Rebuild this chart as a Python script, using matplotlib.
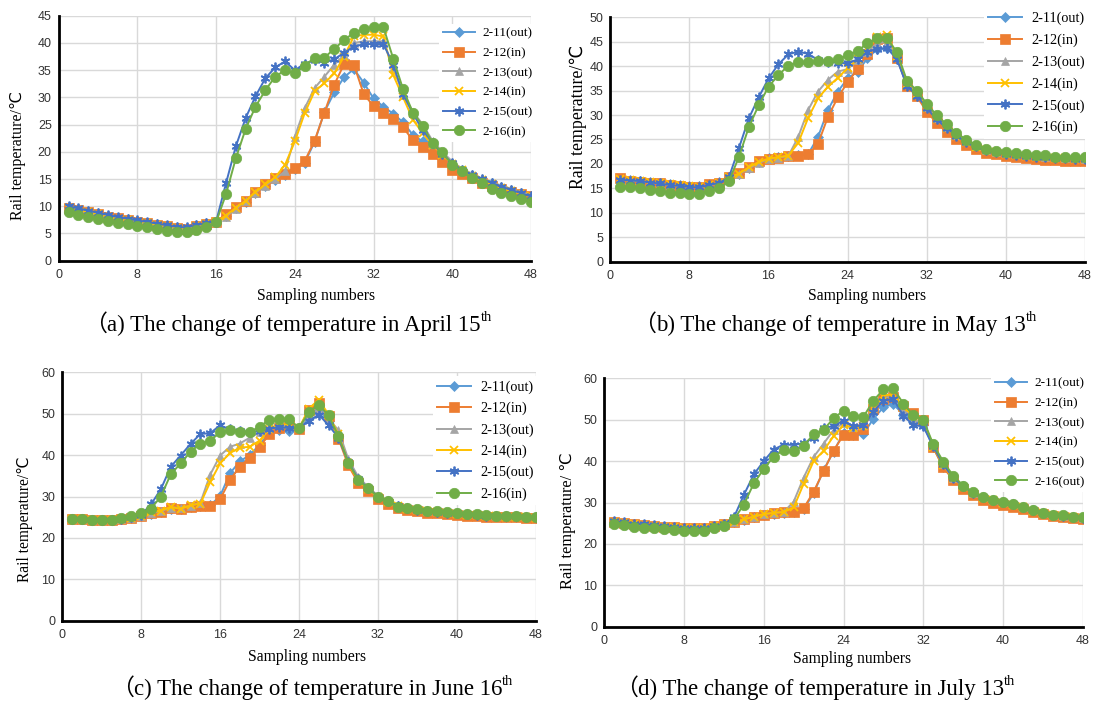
import matplotlib
matplotlib.use("Agg")
import matplotlib.pyplot as plt

W, H = 1094, 705

samples = list(range(1, 49))

names = ['2-11(out)', '2-12(in)', '2-13(out)', '2-14(in)', '2-15(out)', '2-16(in)']
names_d = ['2-11(out)', '2-12(in)', '2-13(out)', '2-14(in)', '2-15(out)', '2-16(out)']
colors = ['#5B9BD5', '#ED7D31', '#A5A5A5', '#FFC000', '#4472C4', '#70AD47']
markers = ['D', 's', '^', 'x', (6, 2, 0), 'o']
msizes = [5, 6.5, 6, 6, 7, 7.5]

# (a) April 15
a_211 = [9.9, 9.5, 9.1, 8.7, 8.3, 7.9, 7.6, 7.3, 7.0, 6.7, 6.4, 6.1, 6.0, 6.5, 6.9, 7.2,
         8.2, 9.6, 10.8, 12.4, 13.8, 14.9, 15.8, 16.8, 18.0, 21.8, 27.3, 30.9, 33.7, 35.2, 32.7, 29.8,
         28.3, 27.0, 25.4, 23.1, 21.9, 20.2, 18.8, 17.4, 16.5, 15.7, 14.9, 14.2, 13.6, 13.0, 12.5, 11.9]
a_212 = [9.7, 9.3, 8.9, 8.5, 8.1, 7.8, 7.5, 7.2, 6.9, 6.6, 6.3, 6.0, 5.9, 6.4, 6.8, 7.2,
         8.5, 9.9, 11.0, 12.7, 14.1, 15.2, 16.0, 17.0, 18.3, 22.0, 27.2, 32.3, 36.1, 36.0, 30.6, 28.4,
         27.2, 26.0, 24.5, 22.1, 20.8, 19.6, 18.2, 16.7, 15.9, 15.1, 14.3, 13.7, 13.1, 12.7, 12.3, 11.9]
a_213 = [9.6, 9.2, 8.8, 8.4, 8.0, 7.7, 7.4, 7.1, 6.8, 6.5, 6.2, 5.9, 5.8, 6.3, 6.7, 7.1,
         8.1, 9.5, 10.9, 12.5, 13.8, 15.0, 16.4, 22.8, 28.0, 31.7, 33.8, 36.0, 37.8, 40.0, 40.3, 40.3,
         40.3, 35.4, 30.5, 27.4, 25.0, 22.0, 20.0, 18.2, 16.9, 16.0, 15.1, 14.4, 13.8, 13.2, 12.6, 12.1]
a_214 = [9.7, 9.3, 8.9, 8.5, 8.1, 7.7, 7.4, 7.2, 6.9, 6.6, 6.3, 6.0, 5.9, 6.4, 6.8, 7.2,
         8.3, 9.7, 11.0, 12.6, 14.0, 15.3, 17.6, 21.9, 27.1, 31.1, 32.6, 34.4, 37.5, 41.2, 41.5, 41.5,
         41.2, 34.1, 30.0, 25.9, 23.4, 21.2, 19.5, 17.8, 16.6, 15.6, 14.8, 14.0, 13.3, 12.8, 12.3, 11.8]
a_215 = [10.0, 9.6, 9.2, 8.8, 8.4, 8.0, 7.7, 7.4, 7.1, 6.8, 6.5, 6.2, 6.1, 6.5, 6.9, 7.2,
         14.2, 21.0, 26.2, 30.2, 33.5, 35.5, 36.6, 35.0, 36.2, 36.8, 36.4, 37.0, 38.2, 39.3, 39.8, 39.8,
         39.8, 36.0, 30.6, 27.0, 24.0, 21.6, 19.6, 17.9, 16.7, 15.8, 15.0, 14.3, 13.6, 13.0, 12.4, 11.8]
a_216 = [8.9, 8.4, 8.0, 7.6, 7.3, 7.0, 6.7, 6.4, 6.1, 5.8, 5.5, 5.2, 5.2, 5.6, 6.1, 7.1,
         12.2, 18.8, 24.2, 28.3, 31.3, 33.8, 35.0, 34.4, 35.8, 37.3, 37.3, 38.9, 40.5, 41.9, 42.6, 42.9,
         42.9, 37.1, 31.5, 27.2, 24.8, 21.6, 19.9, 17.6, 16.4, 15.1, 14.2, 13.2, 12.5, 11.9, 11.3, 10.8]

# (b) May 13
b_211 = [17.0, 16.8, 16.6, 16.4, 16.2, 15.9, 15.7, 15.5, 15.4, 15.8, 16.3, 17.4,
         18.0, 19.2, 20.3, 21.2, 21.4, 21.6, 21.8, 22.0, 25.5, 31.0, 34.8, 37.5, 38.9, 41.6, 43.5, 43.7,
         41.5, 36.0, 34.0, 31.2, 28.9, 27.1, 25.6, 24.3, 23.4, 22.7, 22.3, 22.0, 21.8, 21.6, 21.5, 21.4,
         21.3, 21.2, 21.1, 21.0]
b_212 = [17.1, 16.5, 16.4, 16.2, 16.0, 15.7, 15.5, 15.3, 15.3, 15.8, 16.2, 17.4,
         18.1, 19.4, 20.5, 21.0, 21.3, 21.6, 21.7, 22.0, 24.1, 29.6, 33.6, 36.7, 39.4, 42.5, 45.5, 45.8,
         41.6, 36.0, 33.8, 30.7, 28.4, 26.6, 25.0, 23.9, 23.0, 22.3, 22.0, 21.6, 21.4, 21.2, 21.1, 20.9,
         20.8, 20.7, 20.7, 20.6]
b_213 = [16.8, 16.6, 16.4, 16.2, 16.0, 15.7, 15.5, 15.3, 15.2, 15.6, 16.1, 17.2,
         17.9, 19.1, 20.2, 21.0, 21.3, 21.6, 25.5, 31.0, 34.8, 37.2, 38.9, 39.4, 41.3, 43.0, 44.7, 45.0,
         42.0, 36.5, 34.5, 31.7, 29.3, 27.5, 26.0, 24.7, 23.7, 22.9, 22.5, 22.2, 22.0, 21.8, 21.6, 21.5,
         21.4, 21.3, 21.2, 21.1]
b_214 = [16.9, 16.7, 16.5, 16.3, 16.1, 15.8, 15.6, 15.4, 15.3, 15.7, 16.2, 17.3,
         18.0, 19.3, 20.4, 21.1, 21.4, 21.7, 24.3, 29.4, 33.4, 35.8, 37.6, 39.6, 41.4, 43.5, 46.0, 46.4,
         42.0, 36.3, 34.3, 31.5, 29.1, 27.3, 25.8, 24.5, 23.5, 22.8, 22.4, 22.1, 21.9, 21.7, 21.5, 21.4,
         21.3, 21.2, 21.1, 21.0]
b_215 = [16.8, 16.6, 16.5, 16.2, 16.0, 15.7, 15.5, 15.3, 15.2, 15.7, 16.1, 17.3,
         23.2, 29.3, 33.6, 37.5, 40.4, 42.4, 43.0, 42.5, 41.3, 40.9, 40.7, 40.6, 41.4, 43.0, 43.5, 43.7,
         41.4, 35.9, 34.0, 31.4, 29.1, 27.3, 25.8, 24.5, 23.6, 22.8, 22.4, 22.1, 21.9, 21.7, 21.5, 21.4,
         21.3, 21.2, 21.1, 21.0]
b_216 = [15.2, 15.2, 15.1, 14.7, 14.5, 14.1, 14.0, 13.9, 13.9, 14.5, 15.0, 16.5,
         21.4, 27.5, 32.0, 35.8, 38.2, 40.1, 40.9, 40.8, 41.1, 41.1, 41.4, 42.3, 43.1, 44.7, 45.7, 45.7,
         42.8, 37.0, 35.0, 32.3, 30.0, 28.1, 26.4, 24.9, 23.9, 23.0, 22.7, 22.4, 22.2, 22.0, 21.8, 21.8,
         21.5, 21.5, 21.4, 21.4]

# (c) June 16
c_211 = [24.5, 24.5, 24.3, 24.3, 24.3, 24.5, 24.8, 25.2, 25.7, 26.2, 27.0, 27.1, 27.5, 27.6, 27.9, 30.1,
         35.6, 38.5, 40.0, 42.5, 45.5, 46.0, 45.8, 46.2, 49.0, 50.8, 48.3, 44.5, 38.0, 33.8, 31.8, 29.8,
         28.6, 27.6, 27.1, 26.7, 26.4, 26.2, 26.0, 25.8, 25.6, 25.5, 25.3, 25.2, 25.1, 25.1, 25.0, 24.9]
c_212 = [24.5, 24.5, 24.3, 24.3, 24.3, 24.5, 24.8, 25.2, 26.0, 26.3, 27.3, 27.0, 27.5, 27.6, 27.8, 29.3,
         34.0, 37.2, 39.4, 42.0, 45.0, 46.5, 47.3, 46.3, 51.0, 52.5, 49.4, 44.0, 37.5, 33.3, 31.3, 29.3,
         28.2, 27.2, 26.8, 26.4, 26.1, 25.9, 25.7, 25.5, 25.4, 25.3, 25.1, 25.0, 25.0, 25.0, 24.9, 24.8]
c_213 = [24.6, 24.6, 24.4, 24.4, 24.4, 24.6, 24.9, 25.4, 26.0, 26.5, 27.3, 27.3, 27.8, 28.5, 35.3, 39.9,
         42.0, 42.8, 44.2, 45.5, 46.6, 47.2, 47.0, 46.8, 49.5, 51.0, 48.8, 46.0, 39.0, 34.8, 32.3, 30.2,
         29.0, 28.0, 27.4, 27.0, 26.6, 26.4, 26.2, 26.0, 25.8, 25.7, 25.5, 25.4, 25.3, 25.3, 25.2, 25.1]
c_214 = [24.5, 24.5, 24.3, 24.3, 24.3, 24.5, 24.8, 25.2, 26.2, 26.6, 27.5, 27.0, 27.9, 28.3, 33.5, 38.0,
         40.5, 41.8, 42.0, 43.5, 46.3, 47.5, 47.3, 46.5, 51.2, 53.4, 49.8, 45.0, 38.0, 33.8, 31.8, 29.8,
         28.6, 27.6, 27.1, 26.7, 26.4, 26.2, 26.0, 25.8, 25.6, 25.5, 25.3, 25.2, 25.1, 25.1, 25.0, 24.9]
c_215 = [24.6, 24.6, 24.4, 24.4, 24.4, 24.6, 25.0, 25.6, 28.1, 31.8, 37.2, 39.9, 42.7, 45.1, 45.3, 47.2,
         46.2, 45.8, 45.6, 45.8, 46.3, 46.8, 46.5, 46.6, 48.2, 49.8, 47.2, 44.2, 38.3, 34.2, 32.0, 30.0,
         28.8, 27.7, 27.2, 26.8, 26.5, 26.3, 26.1, 25.9, 25.7, 25.6, 25.4, 25.3, 25.2, 25.2, 25.1, 25.0]
c_216 = [24.6, 24.6, 24.4, 24.4, 24.4, 24.7, 25.3, 26.0, 27.1, 30.0, 35.4, 38.0, 40.8, 42.8, 43.5, 45.5,
         46.0, 45.7, 45.5, 46.9, 48.5, 48.7, 48.6, 46.6, 50.4, 52.2, 49.6, 44.6, 38.2, 34.0, 32.0, 30.0,
         28.8, 27.5, 27.2, 26.9, 26.6, 26.4, 26.2, 26.0, 25.8, 25.7, 25.5, 25.3, 25.3, 25.3, 25.1, 25.1]

# (d) July 13
d_211 = [25.4, 25.1, 24.8, 24.6, 24.4, 24.2, 24.0, 23.8, 23.7, 23.8, 24.2, 24.6,
         25.2, 25.8, 26.4, 27.0, 27.3, 27.5, 27.6, 28.4, 32.2, 37.8, 42.3, 46.8, 46.4, 46.6, 50.2, 53.0,
         53.8, 51.2, 49.5, 48.8, 43.3, 38.6, 35.6, 33.5, 32.0, 31.0, 30.3, 29.8, 29.3, 28.6, 27.9, 27.4,
         27.0, 26.7, 26.4, 26.2]
d_212 = [25.3, 25.0, 24.8, 24.6, 24.4, 24.2, 24.0, 23.9, 23.8, 23.9, 24.3, 24.7,
         25.3, 25.9, 26.5, 27.1, 27.4, 27.6, 27.7, 28.6, 32.6, 37.6, 42.5, 46.3, 46.3, 47.8, 52.5, 55.1,
         55.4, 53.2, 51.6, 50.0, 43.3, 38.5, 35.5, 33.3, 31.7, 30.7, 30.0, 29.5, 29.0, 28.4, 27.7, 27.2,
         26.8, 26.5, 26.2, 26.1]
d_213 = [25.4, 25.1, 24.8, 24.6, 24.4, 24.2, 24.0, 23.8, 23.7, 23.8, 24.2, 24.6,
         25.3, 25.9, 26.6, 27.2, 27.5, 27.7, 30.2, 36.0, 41.0, 44.2, 47.5, 49.3, 48.3, 48.8, 52.8, 55.3,
         55.6, 52.6, 50.0, 49.2, 43.8, 39.2, 36.0, 33.9, 32.3, 31.3, 30.6, 30.1, 29.6, 28.9, 28.1, 27.5,
         27.1, 26.8, 26.5, 26.3]
d_214 = [25.3, 25.0, 24.8, 24.6, 24.4, 24.2, 24.0, 23.9, 23.8, 23.9, 24.3, 24.7,
         25.3, 25.9, 26.6, 27.2, 27.5, 27.7, 28.8, 34.5, 40.0, 42.5, 46.0, 48.8, 48.0, 48.5, 52.8, 55.8,
         56.2, 53.0, 51.0, 49.8, 43.5, 39.0, 35.9, 33.8, 32.2, 31.2, 30.5, 30.0, 29.5, 28.8, 28.0, 27.4,
         27.0, 26.7, 26.4, 26.2]
d_215 = [25.5, 25.2, 24.9, 24.7, 24.5, 24.3, 24.1, 23.9, 23.8, 23.9, 24.3, 24.8,
         26.4, 31.8, 36.8, 40.0, 42.8, 44.0, 43.9, 44.3, 45.7, 47.9, 48.5, 49.8, 48.4, 48.6, 51.9, 54.6,
         55.0, 51.0, 48.7, 48.4, 43.6, 39.2, 36.0, 33.9, 32.3, 31.3, 30.6, 30.1, 29.6, 28.9, 28.1, 27.5,
         27.1, 26.8, 26.5, 26.3]
d_216 = [24.9, 24.6, 24.2, 23.9, 23.8, 23.6, 23.3, 23.2, 23.1, 23.2, 23.8, 24.4,
         25.9, 29.5, 34.6, 38.1, 41.1, 42.7, 42.4, 43.7, 46.5, 47.6, 50.3, 52.2, 50.9, 50.7, 54.6, 57.3,
         57.6, 53.9, 51.1, 50.0, 44.1, 39.9, 36.5, 34.1, 32.5, 31.3, 30.6, 30.1, 29.7, 28.9, 28.1, 27.5,
         27.1, 26.9, 26.5, 26.4]

serif = ['Liberation Serif', 'DejaVu Serif']
sym = ['Liberation Serif', 'DejaVu Sans']

fig = plt.figure(figsize=(W / 100, H / 100), dpi=100)

# panel settings in pixels: axes box (left, top, right, bottom), legend (x, top, size, spacing)
panels = [
    dict(box=(58.7, 15.7, 531, 260.7), data=[a_211, a_212, a_213, a_214, a_215, a_216], labels=names,
         ymax=45, ystep=5, ylab='Rail temperature/℃', ylab_xy=(18, 155), ylab_size=11.5,
         xlab_xy=(316, 296), leg=(443, 27.5, 9.5, 0.56),
         cap=('a', 'April 15'), cap_xy=(288, 331)),
    dict(box=(610.3, 17.3, 1085, 261.7), data=[b_211, b_212, b_213, b_214, b_215, b_216], labels=names,
         ymax=50, ystep=5, ylab='Rail temperature/℃', ylab_xy=(578, 117), ylab_size=12.8,
         xlab_xy=(867, 296), leg=(988, 12, 10.3, 0.58),
         cap=('b', 'May 13'), cap_xy=(835, 331)),
    dict(box=(62.3, 372.3, 535.7, 620.7), data=[c_211, c_212, c_213, c_214, c_215, c_216], labels=names,
         ymax=60, ystep=10, ylab='Rail temperature/℃', ylab_xy=(25, 519), ylab_size=11.2,
         xlab_xy=(307, 657), leg=(437, 380.5, 10.3, 0.55),
         cap=('c', 'June 16'), cap_xy=(312, 695)),
    dict(box=(604.3, 378.3, 1082.7, 626.7), data=[d_211, d_212, d_213, d_214, d_215, d_216], labels=names_d,
         ymax=60, ystep=10, ylab='Rail temperature/ ℃', ylab_xy=(568, 521), ylab_size=11.8,
         xlab_xy=(852, 659), leg=(995, 377.5, 9.5, 0.56),
         cap=('d', 'July 13'), cap_xy=(815, 695)),
]

for p in panels:
    l, t, r, b = p['box']
    ax = fig.add_axes([l / W, 1 - b / H, (r - l) / W, (b - t) / H])
    for vals, lab, c, m, ms in zip(p['data'], p['labels'], colors, markers, msizes):
        ax.plot(samples, vals, color=c, marker=m, markersize=ms, linewidth=1.4,
                markeredgewidth=1.3 if m in ('x', (6, 2, 0)) else 0.5,
                markeredgecolor=c, label=lab)
    ax.set_xlim(0, 48)
    ax.set_ylim(0, p['ymax'])
    ax.set_xticks(range(0, 49, 8))
    ax.set_yticks(range(0, p['ymax'] + 1, p['ystep']))
    ax.grid(True, color='#D9D9D9', linewidth=1)
    ax.set_axisbelow(True)
    for s in ('top', 'right'):
        ax.spines[s].set_visible(False)
    for s in ('left', 'bottom'):
        ax.spines[s].set_color('black')
        ax.spines[s].set_linewidth(2)
    ax.tick_params(length=0, labelsize=9, labelcolor='#333333')
    ax.tick_params(axis='x', pad=6)
    ax.tick_params(axis='y', pad=5)
    for tl in ax.get_xticklabels() + ax.get_yticklabels():
        tl.set_family('Liberation Sans')

    ax.set_xlabel('Sampling numbers', family=serif, fontsize=11.3)
    xl, yl = p['xlab_xy']
    ax.xaxis.set_label_coords((xl - l) / (r - l), (b - yl) / (b - t))
    ax.xaxis.label.set_va('center')
    ax.set_ylabel(p['ylab'], family=sym, fontsize=p['ylab_size'])
    xl, yl = p['ylab_xy']
    ax.yaxis.set_label_coords((xl - l) / (r - l), (b - yl) / (b - t))
    ax.yaxis.label.set_ha('center')
    ax.yaxis.label.set_va('center')

    lx, lt, lsize, lsp = p['leg']
    pad = 0.3
    pad_px = pad * lsize * 100 / 72
    leg = ax.legend(loc='upper left', bbox_to_anchor=((lx - pad_px) / W, 1 - (lt - pad_px) / H),
                    bbox_transform=fig.transFigure, prop={'family': serif, 'size': lsize},
                    frameon=True, fancybox=False, borderpad=pad, borderaxespad=0,
                    handlelength=2.4, handletextpad=0.6, labelspacing=lsp)
    leg.get_frame().set_facecolor('white')
    leg.get_frame().set_edgecolor('none')
    leg.get_frame().set_alpha(1)

# captions: full-width paren, main text, raised "th"
renderer = fig.canvas.get_renderer()
for p in panels:
    letter, day = p['cap']
    cx, by = p['cap_xy']
    parts = [
        ('（', ['Noto Sans CJK SC'], 16.5, 0),
        (letter + ') The change of temperature in ' + day, serif, 16.5, 0),
        ('th', serif, 10.5, 10),
    ]
    texts = []
    total = 0
    for s, fam, size, rise in parts:
        tx = fig.text(0, 0, s, family=fam, fontsize=size, ha='left', va='baseline')
        w = tx.get_window_extent(renderer).width
        texts.append((tx, w, rise))
        total += w
    x0 = cx - total / 2
    for tx, w, rise in texts:
        tx.set_position((x0 / W, 1 - (by - rise) / H))
        x0 += w

fig.savefig('out.png', dpi=100)
